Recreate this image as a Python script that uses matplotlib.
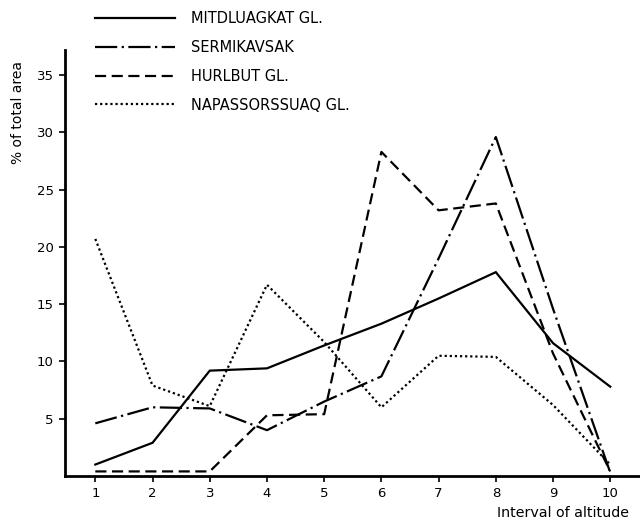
import matplotlib
matplotlib.use('Agg')
import matplotlib.pyplot as plt

# interval of altitude (1..10) vs % of total area
intervals = [1, 2, 3, 4, 5, 6, 7, 8, 9, 10]
mitdluagkat = [1.0, 2.9, 9.2, 9.4, 11.4, 13.3, 15.5, 17.8, 11.6, 7.8]
sermikavsak = [4.6, 6.0, 5.9, 4.0, 6.5, 8.7, 19.0, 29.6, 14.6, 0.3]
hurlbut = [0.4, 0.4, 0.4, 5.3, 5.4, 28.3, 23.2, 23.8, 10.7, 0.4]
napassorssuaq = [20.7, 7.9, 6.1, 16.7, 11.7, 6.0, 10.5, 10.4, 6.2, 1.0]

labels = ['MITDLUAGKAT GL.', 'SERMIKAVSAK', 'HURLBUT GL.', 'NAPASSORSSUAQ GL.']
yticks = [5, 10, 15, 20, 25, 30, 35]

plt.rcParams.update({
    'font.family': 'DejaVu Sans',
    'font.size': 9,
})

fig = plt.figure(figsize=(6.4, 5.23), dpi=100)
ax = fig.add_axes([65 / 640, 47 / 523, 1 - 65 / 640, 426 / 523])

lw = 1.6
series = [
    (mitdluagkat, '-'),
    (sermikavsak, (0, (10, 2, 1, 2))),
    (hurlbut, (0, (5, 2.5))),
    (napassorssuaq, (0, (1, 1.3))),
]
handles = []
for vals, ls in series:
    h, = ax.plot(intervals, vals, color='black', linestyle=ls, linewidth=lw,
                 solid_joinstyle='miter')
    handles.append(h)

ax.set_xlim(0.47, 10.52)
ax.set_ylim(0, 37.2)
ax.set_xticks(intervals)
ax.set_yticks(yticks)
ax.tick_params(direction='out', length=4, width=1.2, colors='black',
               labelsize=9.5, pad=4)
for side in ['top', 'right']:
    ax.spines[side].set_visible(False)
for side in ['left', 'bottom']:
    ax.spines[side].set_linewidth(2)

fig.text(18 / 640, 1 - 113 / 523, '% of total area', rotation=90,
         ha='center', va='center', fontsize=10)
fig.text(497 / 640, 1 - 513 / 523, 'Interval of altitude',
         ha='left', va='center', fontsize=10.3)

fig.legend(handles, labels, loc='upper left',
           bbox_to_anchor=(95 / 640, 1 - 11 / 523),
           frameon=False, fontsize=10.5, borderpad=0, borderaxespad=0,
           handlelength=5.5, handletextpad=1.05, labelspacing=0.95)

fig.savefig('out.png', dpi=100)
